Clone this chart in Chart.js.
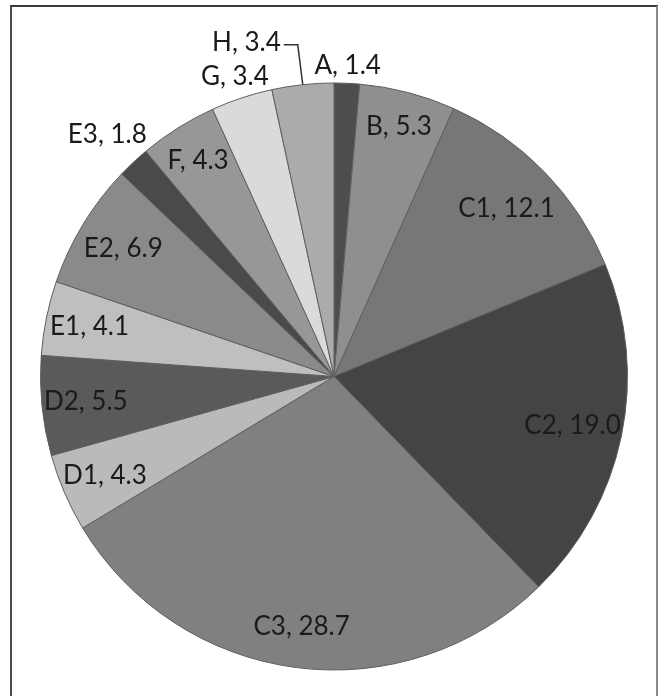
<!DOCTYPE html>
<html>
<head>
<meta charset="utf-8">
<script src="https://cdn.jsdelivr.net/npm/chart.js@4/dist/chart.umd.min.js"></script>
<style>
  html, body { margin: 0; padding: 0; background: #ffffff; }
  body { width: 659px; height: 696px; overflow: hidden; position: relative; }
  #frame { position: absolute; left: 10px; top: 5px; width: 644px; height: 720px;
           border-left: 2px solid #4a4a4a; border-top: 2px solid #3a3a3a; border-right: 2px solid #8a8a8a; }
  #wrap { position: absolute; left: 0; top: 0; width: 659px; height: 696px; }
</style>
</head>
<body>
<div id="frame"></div>
<div id="wrap"><canvas id="c"></canvas></div>
<script>
// ---- data ----
const categories = ['A', 'B', 'C1', 'C2', 'C3', 'D1', 'D2', 'E1', 'E2', 'E3', 'F', 'G', 'H'];
const values = [1.4, 5.3, 12.1, 19.0, 28.7, 4.3, 5.5, 4.1, 6.9, 1.8, 4.3, 3.4, 3.4];

// ---- styles ----
const sliceColors = ['#4d4d4d', '#8f8f8f', '#777777', '#444444', '#808080', '#bababa',
                     '#5a5a5a', '#bfbfbf', '#8a8a8a', '#4a4a4a', '#979797', '#dadada', '#ababab'];
// label distance from centre as a fraction of radius (null = leader-line label)
const labelRadius = [1.06, 0.88, 0.82, 0.83, 0.86, 0.85, 0.85, 0.85, 0.84, 1.13, 0.87, 1.075, null];

const labelPlugin = {
  id: 'sliceLabels',
  afterDatasetsDraw(chart) {
    const ctx = chart.ctx;
    const meta = chart.getDatasetMeta(0);
    ctx.save();
    ctx.font = '26px Lato';
    ctx.fillStyle = '#1a1a1a';
    ctx.textBaseline = 'middle';
    meta.data.forEach((arc, i) => {
      const p = arc.getProps(['x', 'y', 'startAngle', 'endAngle', 'outerRadius'], true);
      const mid = (p.startAngle + p.endAngle) / 2;
      const text = categories[i] + ', ' + values[i].toFixed(1);
      if (labelRadius[i] !== null) {
        const r = p.outerRadius * labelRadius[i];
        ctx.textAlign = 'center';
        ctx.fillText(text, p.x + Math.cos(mid) * r, p.y + Math.sin(mid) * r);
      } else {
        const ex = p.x + Math.cos(mid) * p.outerRadius;
        const ey = p.y + Math.sin(mid) * p.outerRadius;
        const ly = p.y - p.outerRadius * 1.13;
        const lx = ex - 5;
        ctx.strokeStyle = '#333333';
        ctx.lineWidth = 1.5;
        ctx.beginPath();
        ctx.moveTo(ex, ey);
        ctx.lineTo(lx, ly);
        ctx.lineTo(lx - 14, ly);
        ctx.stroke();
        ctx.textAlign = 'right';
        ctx.fillText(text, lx - 17, ly - 2);
      }
    });
    ctx.restore();
  }
};

new Chart(document.getElementById('c'), {
  type: 'pie',
  data: {
    labels: categories,
    datasets: [{
      data: values,
      backgroundColor: sliceColors,
      borderColor: '#5e5e5e',
      borderWidth: 1,
      hoverOffset: 0
    }]
  },
  options: {
    responsive: true,
    maintainAspectRatio: false,
    animation: false,
    layout: { padding: { top: 82, bottom: 25, left: 40, right: 31 } },
    plugins: { legend: { display: false }, tooltip: { enabled: false } }
  },
  plugins: [labelPlugin]
});
</script>
</body>
</html>
